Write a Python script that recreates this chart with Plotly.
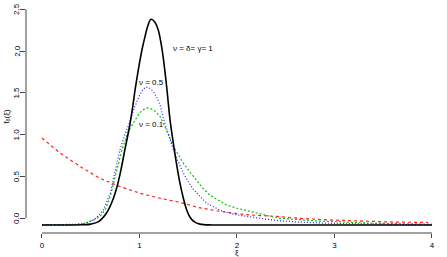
import plotly.graph_objects as go

# ---- data ----
xi_black = [0.0, 0.30, 0.42, 0.50, 0.58, 0.66, 0.72, 0.77, 0.81, 0.85, 0.895, 0.93, 0.954, 0.98, 1.005, 1.03,
            1.056, 1.085, 1.118, 1.155, 1.193, 1.22, 1.244, 1.279, 1.313, 1.347, 1.38, 1.415, 1.45, 1.484,
            1.52, 1.56, 1.62, 1.75, 2.0, 3.0, 4.0]
f_black = [-0.08, -0.08, -0.078, -0.07, -0.04, 0.06, 0.20, 0.38, 0.58, 0.82, 1.08, 1.33, 1.53, 1.72, 1.89, 2.04,
           2.17, 2.30, 2.38, 2.35, 2.25, 2.10, 1.92, 1.57, 1.18, 0.90, 0.65, 0.42, 0.24, 0.10,
           0.01, -0.04, -0.07, -0.08, -0.08, -0.08, -0.08]

xi_blue = [0.0, 0.30, 0.39, 0.46, 0.53, 0.58, 0.63, 0.70, 0.75, 0.80, 0.85, 0.90, 0.95, 1.00, 1.035, 1.067,
           1.10, 1.14, 1.18, 1.21, 1.244, 1.29, 1.347, 1.40, 1.45, 1.50, 1.55, 1.62, 1.69, 1.77, 1.86,
           2.0, 2.13, 2.30, 2.44, 2.63, 2.95, 3.3, 3.7, 4.0]
f_blue = [-0.08, -0.078, -0.07, -0.055, -0.02, 0.03, 0.10, 0.30, 0.58, 0.82, 1.00, 1.15, 1.33, 1.47, 1.54, 1.57,
          1.56, 1.52, 1.44, 1.36, 1.20, 1.02, 0.82, 0.67, 0.54, 0.44, 0.35, 0.26, 0.18, 0.13, 0.08,
          0.04, 0.015, -0.01, -0.03, -0.045, -0.06, -0.07, -0.075, -0.078]

xi_green = [0.0, 0.30, 0.42, 0.49, 0.55, 0.61, 0.66, 0.70, 0.76, 0.82, 0.885, 0.954, 1.00, 1.04, 1.084,
            1.12, 1.16, 1.21, 1.244, 1.29, 1.347, 1.40, 1.45, 1.52, 1.59, 1.65, 1.72, 1.80, 1.89, 2.0,
            2.13, 2.30, 2.44, 2.63, 2.80, 3.0, 3.4, 3.7, 4.0]
f_green = [-0.08, -0.078, -0.065, -0.04, -0.01, 0.04, 0.13, 0.26, 0.54, 0.82, 1.04, 1.18, 1.26, 1.30, 1.32,
           1.31, 1.28, 1.22, 1.14, 1.02, 0.86, 0.76, 0.66, 0.55, 0.44, 0.36, 0.28, 0.22, 0.16, 0.12,
           0.08, 0.035, 0.0, -0.02, -0.03, -0.04, -0.06, -0.065, -0.07]

xi_red = [0.0, 0.185, 0.39, 0.59, 0.80, 1.005, 1.21, 1.415, 1.60, 1.79, 2.0, 2.13, 2.44, 2.63, 2.95, 3.3, 3.6, 3.96]
f_red = [0.96, 0.78, 0.62, 0.48, 0.38, 0.30, 0.24, 0.19, 0.13, 0.09, 0.055, 0.04, 0.02, 0.0, -0.02, -0.035, -0.045, -0.05]

x_ticks = [0, 1, 2, 3, 4]
y_ticks = [0.0, 0.5, 1.0, 1.5, 2.0, 2.5]
y_tick_text = ["0.0", "0.5", "1.0", "1.5", "2.0", "2.5"]

fig = go.Figure()
fig.add_trace(go.Scatter(x=xi_red, y=f_red, mode="lines", line=dict(color="#FF2020", width=1.2, dash="3px,3px")))
fig.add_trace(go.Scatter(x=xi_green, y=f_green, mode="lines", line=dict(color="#10C010", width=1.2, dash="2px,2px")))
fig.add_trace(go.Scatter(x=xi_blue, y=f_blue, mode="lines", line=dict(color="#2020FF", width=1.2, dash="1px,2px")))
fig.add_trace(go.Scatter(x=xi_black, y=f_black, mode="lines", line=dict(color="black", width=1.6, shape="spline")))

font = dict(family="Liberation Sans, Arial, sans-serif", size=8, color="black")

annotations = [
    dict(text="ν = δ= γ= 1", x=1.32, y=2.03, xref="x", yref="y", showarrow=False, xanchor="left", font=font),
    dict(text="ν = 0.5", x=0.975, y=1.63, xref="x", yref="y", showarrow=False, xanchor="left", font=font),
    dict(text="ν = 0.1", x=0.975, y=1.12, xref="x", yref="y", showarrow=False, xanchor="left", font=font),
    dict(text="f<sub>δ</sub>(ξ)", x=-0.047, y=0.5, xref="paper", yref="paper", showarrow=False,
         textangle=-90, xanchor="center", yanchor="middle", font=font),
    dict(text="ξ", x=0.5, y=-0.085, xref="paper", yref="paper", showarrow=False,
         xanchor="center", yanchor="middle", font=font),
]
for v, t in zip(y_ticks, y_tick_text):
    annotations.append(dict(text=t, x=-0.022, y=v, xref="paper", yref="y", showarrow=False,
                            textangle=-90, xanchor="center", yanchor="middle", font=font))

fig.update_layout(
    width=447, height=257,
    margin=dict(l=26, r=0, t=0, b=24),
    paper_bgcolor="white", plot_bgcolor="white",
    showlegend=False,
    font=font,
    xaxis=dict(range=[-0.164, 4.154], tickvals=x_ticks, ticktext=[str(v) for v in x_ticks],
               ticks="outside", ticklen=4, tickcolor="#444", showline=False, showgrid=False,
               zeroline=False, tickfont=font, automargin=False),
    yaxis=dict(range=[-0.176, 2.611], tickvals=y_ticks, showticklabels=False,
               ticks="outside", ticklen=5, tickcolor="#444", showline=False, showgrid=False,
               zeroline=False, automargin=False),
    shapes=[
        dict(type="line", xref="paper", yref="y", x0=0, x1=0, y0=0, y1=2.5, line=dict(color="#444", width=1)),
        dict(type="line", xref="x", yref="paper", x0=0, x1=4, y0=0, y1=0, line=dict(color="#444", width=1)),
    ],
    annotations=annotations,
)

fig.write_html("out.html", config={"displayModeBar": False},
               post_script="document.body.style.margin='0';document.body.style.overflow='hidden';")
